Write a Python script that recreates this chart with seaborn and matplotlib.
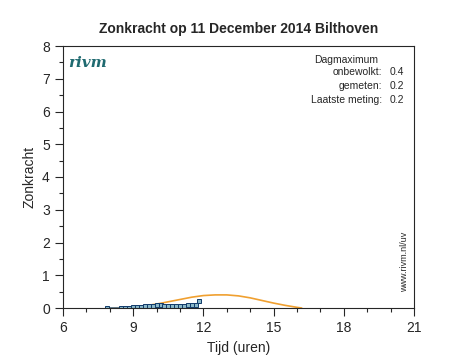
import matplotlib.pyplot as plt
import seaborn as sns
import pandas as pd
from matplotlib.ticker import MultipleLocator

# verwachte zonkracht bij onbewolkte hemel
tijd_verwacht = [8.0, 8.5, 9.0, 9.5, 10.0, 10.5, 11.0, 11.5, 12.0, 12.5, 13.0,
                 13.5, 14.0, 14.5, 15.0, 15.5, 16.0, 16.2]
zonkracht_verwacht = [0.0, 0.01, 0.03, 0.07, 0.12, 0.19, 0.26, 0.33, 0.38, 0.40, 0.40,
                      0.37, 0.31, 0.23, 0.15, 0.08, 0.02, 0.0]

# gemeten zonkracht
tijd_gemeten = [7.9, 8.5, 8.67, 8.83, 9.0, 9.17, 9.33, 9.5, 9.67, 9.83, 10.0, 10.17,
                10.33, 10.5, 10.67, 10.83, 11.0, 11.17, 11.33, 11.5, 11.67, 11.83]
zonkracht_gemeten = [0.0, 0.0, 0.0, 0.01, 0.02, 0.03, 0.04, 0.05, 0.06, 0.07, 0.08, 0.08,
                     0.07, 0.06, 0.05, 0.05, 0.06, 0.07, 0.08, 0.09, 0.10, 0.2]

df_v = pd.DataFrame({'tijd': tijd_verwacht, 'zonkracht': zonkracht_verwacht})
df_g = pd.DataFrame({'tijd': tijd_gemeten, 'zonkracht': zonkracht_gemeten})

sns.set_style('ticks')
plt.rcParams['font.family'] = ['Liberation Sans', 'DejaVu Sans']

fig = plt.figure(figsize=(4.6, 3.64), dpi=100)
ax = fig.add_axes([63 / 460, 56 / 364, 351 / 460, 262 / 364])

sns.lineplot(data=df_v, x='tijd', y='zonkracht', color='#f0a030', linewidth=1.2, ax=ax)
sns.lineplot(data=df_g, x='tijd', y='zonkracht', color='#2a6db0', linewidth=1.0,
             marker='s', markersize=3, markerfacecolor='#8ab8c8',
             markeredgecolor='#103a6a', markeredgewidth=0.7, ax=ax)

ax.set_xlim(6, 21)
ax.set_ylim(0, 8)
ax.xaxis.set_major_locator(MultipleLocator(3))
ax.xaxis.set_minor_locator(MultipleLocator(1))
ax.yaxis.set_major_locator(MultipleLocator(1))
ax.yaxis.set_minor_locator(MultipleLocator(0.5))
ax.tick_params(which='major', length=6, width=0.8, labelsize=10)
ax.tick_params(which='minor', length=3, width=0.8)
for s in ax.spines.values():
    s.set_linewidth(0.8)

ax.set_title('Zonkracht op 11 December 2014 Bilthoven', fontsize=10, fontweight='bold', pad=9)
ax.set_xlabel('Tijd (uren)', fontsize=10)
ax.set_ylabel('Zonkracht', fontsize=10)

ax.text(0.015, 0.96, 'rivm', transform=ax.transAxes, fontsize=11, color='#1f6a70',
        fontstyle='italic', fontweight='bold', family='DejaVu Serif', va='top')

ax.text(0.715, 0.965, 'Dagmaximum', transform=ax.transAxes, fontsize=7.5, va='top')
labels = ['onbewolkt:', 'gemeten:', 'Laatste meting:']
waarden = ['0.4', '0.2', '0.2']
for i, (l, w) in enumerate(zip(labels, waarden)):
    y = 0.918 - i * 0.052
    ax.text(0.91, y, l, transform=ax.transAxes, fontsize=7.5, va='top', ha='right')
    ax.text(0.93, y, w, transform=ax.transAxes, fontsize=7.5, va='top', ha='left')

ax.text(0.985, 0.06, 'www.rivm.nl/uv', transform=ax.transAxes, fontsize=6.5,
        rotation=90, ha='right', va='bottom')

plt.savefig('out.png', dpi=100)
plt.close()
